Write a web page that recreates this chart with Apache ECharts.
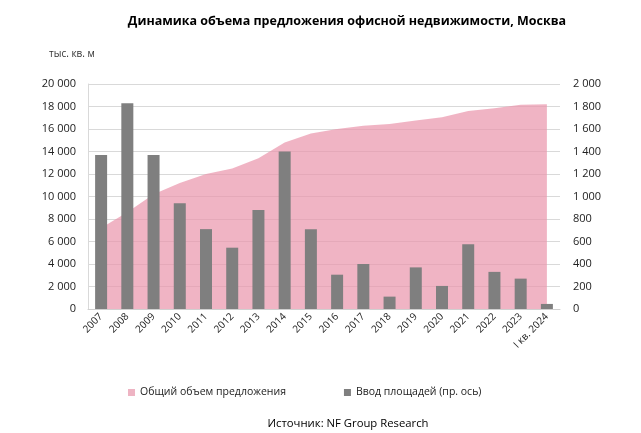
<!DOCTYPE html>
<html>
<head>
<meta charset="utf-8">
<script src="https://cdn.jsdelivr.net/npm/echarts@6/dist/echarts.min.js"></script>
<style>
  html, body { margin: 0; padding: 0; background: #fff; }
  #main { width: 641px; height: 433px; }
</style>
</head>
<body>
<div id="main"></div>
<script>
// категории (годы)
var years = ['2007', '2008', '2009', '2010', '2011', '2012', '2013', '2014', '2015',
  '2016', '2017', '2018', '2019', '2020', '2021', '2022', '2023', 'I кв. 2024'];
// общий объем предложения, тыс. кв. м (левая ось)
var totalStock = [7200, 8600, 10200, 11200, 12000, 12500, 13400, 14800, 15600,
  16000, 16300, 16450, 16750, 17050, 17600, 17850, 18150, 18200];
// ввод площадей, тыс. кв. м (правая ось)
var newSupply = [1370, 1830, 1370, 940, 710, 545, 880, 1400, 710,
  305, 400, 110, 370, 205, 575, 330, 270, 45];

(function () {
  var myChart = echarts.init(document.getElementById('main'));
  var font = '"Open Sans", "Noto Sans", sans-serif';
  function fmt(v) {
    return String(v).replace(/\B(?=(\d{3})+(?!\d))/g, ' ');
  }
  var option;
  option = {
    animation: false,
    textStyle: { fontFamily: font },
    title: [
      {
        text: 'Динамика объема предложения офисной недвижимости, Москва',
        left: 342,
        textAlign: 'center',
        top: 10,
        textStyle: { fontSize: 12.5, fontWeight: 'bold', color: '#000', fontFamily: font }
      },
      {
        text: 'тыс. кв. м',
        left: 44,
        top: 44,
        textStyle: { fontSize: 10, fontWeight: 'normal', color: '#333', fontFamily: font }
      },
      {
        text: 'Источник: NF Group Research',
        left: 343,
        textAlign: 'center',
        top: 413,
        textStyle: { fontSize: 11.3, fontWeight: 'normal', color: '#000', fontFamily: font }
      }
    ],
    legend: {
      top: 382,
      left: 123,
      itemGap: 58,
      itemWidth: 7,
      itemHeight: 7,
      icon: 'rect',
      textStyle: { fontSize: 10.5, color: '#222', fontFamily: font },
      data: ['Общий объем предложения', 'Ввод площадей (пр. ось)']
    },
    grid: {
      left: 88,
      right: 81,
      top: 84,
      bottom: 124
    },
    xAxis: {
      type: 'category',
      data: years,
      boundaryGap: true,
      axisLine: { lineStyle: { color: '#d0d0d0' } },
      axisTick: { show: false },
      axisLabel: {
        rotate: 45,
        margin: 6,
        fontSize: 10,
        color: '#222',
        interval: 0,
        fontFamily: font
      }
    },
    yAxis: [
      {
        type: 'value',
        min: 0,
        max: 20000,
        interval: 2000,
        axisLine: { show: true, lineStyle: { color: '#d9d9d9' } },
        axisTick: { show: false },
        splitLine: { lineStyle: { color: '#d9d9d9' } },
        axisLabel: { fontSize: 11, color: '#222', margin: 12, formatter: fmt, fontFamily: font }
      },
      {
        type: 'value',
        min: 0,
        max: 2000,
        interval: 200,
        axisLine: { show: false },
        axisTick: { show: false },
        splitLine: { show: false },
        axisLabel: { fontSize: 11, color: '#222', margin: 13, formatter: fmt, fontFamily: font }
      }
    ],
    series: [
      {
        name: 'Общий объем предложения',
        type: 'line',
        yAxisIndex: 0,
        data: totalStock,
        showSymbol: false,
        symbol: 'none',
        lineStyle: { width: 0 },
        itemStyle: { color: '#eeb4c3' },
        areaStyle: { color: 'rgb(234,148,171)', opacity: 0.7 },
        z: 1
      },
      {
        name: 'Ввод площадей (пр. ось)',
        type: 'bar',
        yAxisIndex: 1,
        data: newSupply,
        barWidth: 12,
        itemStyle: { color: '#7f7f7f' },
        z: 3
      }
    ]
  };
  //实例化图表
  if (option && typeof option === 'object') {
    myChart.setOption(option);
  };
  window.addEventListener('resize', function () {
    myChart.resize();
  });
})();
</script>
</body>
</html>
